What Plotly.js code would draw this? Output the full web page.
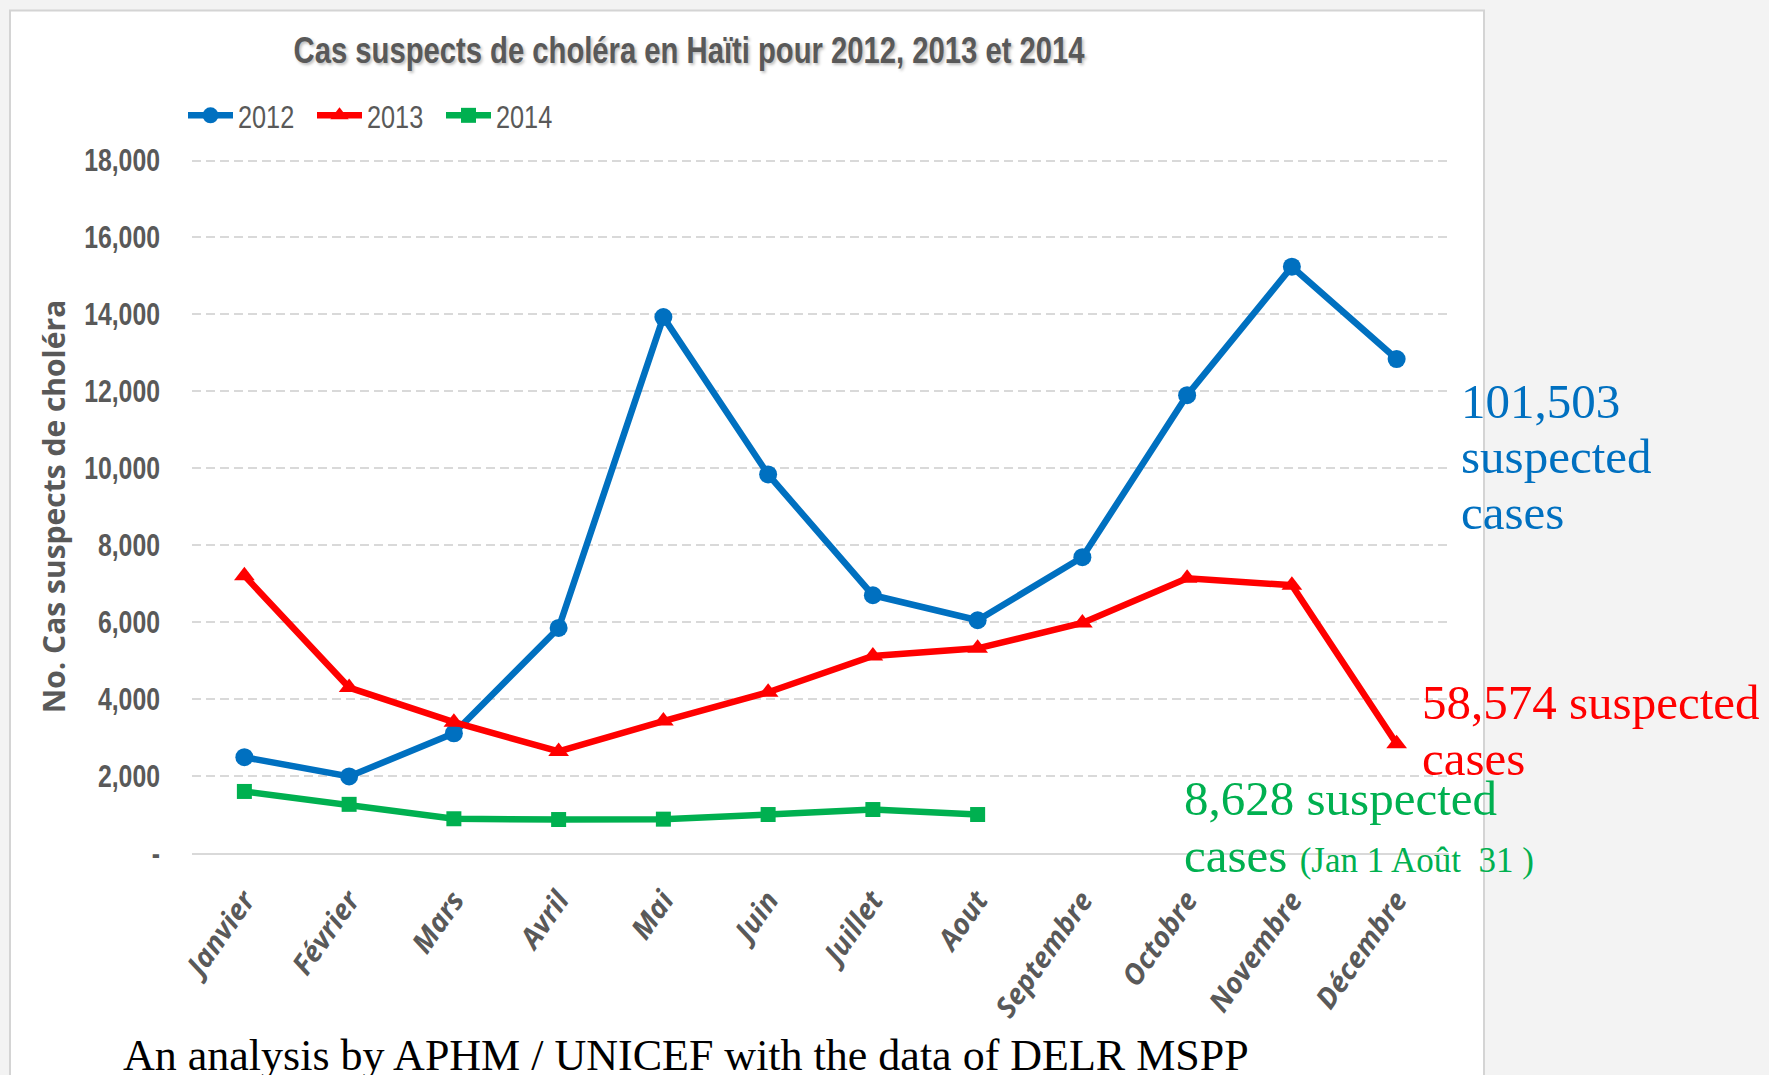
<!DOCTYPE html>
<html>
<head>
<meta charset="utf-8">
<script src="https://cdn.plot.ly/plotly-3.0.1.min.js"></script>
<style>
  html, body { margin: 0; padding: 0; background: #f3f3f3; }
  #chart { width: 1769px; height: 1075px; }
</style>
</head>
<body>
<div id="chart"></div>
<script>
// ---- Data ----
const months = ["Janvier", "Février", "Mars", "Avril", "Mai", "Juin", "Juillet", "Aout",
                "Septembre", "Octobre", "Novembre", "Décembre"];
const cases2012 = [2490, 1990, 3110, 5850, 13930, 9840, 6700, 6050, 7690, 11900, 15240, 12840];
const cases2013 = [7210, 4300, 3400, 2640, 3430, 4180, 5120, 5320, 5980, 7140, 6960, 2840];
const cases2014 = [1600, 1265, 890, 870, 880, 1000, 1130, 1000];
const months2014 = months.slice(0, cases2014.length);
const yTickVals = [0, 2000, 4000, 6000, 8000, 10000, 12000, 14000, 16000, 18000];
const yTickText = ["-", "2,000", "4,000", "6,000", "8,000", "10,000", "12,000", "14,000", "16,000", "18,000"];
const seriesNames = ["2012", "2013", "2014"];
const chartTitle = "Cas suspects de choléra en Haïti pour 2012, 2013 et 2014";
const yTitle = "No. Cas suspects de choléra";
const note2012 = ["101,503", "suspected", "cases"];
const note2013 = ["58,574 suspected", "cases"];
const note2014a = "8,628 suspected";
const note2014b = "cases";
const note2014c = "(Jan 1 Août&nbsp;&nbsp;31 )";
const footer = "An analysis by APHM / UNICEF with the data of DELR MSPP";

// ---- Layout geometry (pixels) ----
const W = 1769, H = 1075;
const L = 192, R = 1449, T = 158.5, B = 853;
const yMax = 18040;
const px2x = p => (p - L) / (R - L);
const px2y = p => (B - p) / (B - T);

const gray = "#595959";
const sans = "'Liberation Sans', Arial, sans-serif";
const serif = "'Liberation Serif', 'Times New Roman', serif";
const open = "'Open Sans', 'DejaVu Sans', sans-serif";

function note(text, left, baseline, size, color) {
  return {
    text: text, xref: "paper", yref: "paper",
    x: px2x(left), y: px2y(baseline - 0.32 * size),
    xanchor: "left", yanchor: "middle", showarrow: false,
    font: {family: serif, size: size, color: color}
  };
}

const traces = [
  {x: months, y: cases2012, name: seriesNames[0], type: "scatter", mode: "lines+markers",
   line: {color: "#0070C0", width: 6.5}, marker: {symbol: "circle", size: 18, color: "#0070C0"}},
  {x: months, y: cases2013, name: seriesNames[1], type: "scatter", mode: "lines+markers",
   line: {color: "#FF0000", width: 6.5}, marker: {symbol: "triangle-up", size: 18, color: "#FF0000"}},
  {x: months2014, y: cases2014, name: seriesNames[2], type: "scatter", mode: "lines+markers",
   line: {color: "#00B050", width: 6.5}, marker: {symbol: "square", size: 15, color: "#00B050"}}
];

const layout = {
  width: W, height: H,
  margin: {l: L, r: W - R, t: T, b: H - B, pad: 0},
  paper_bgcolor: "#f3f3f3",
  plot_bgcolor: "rgba(0,0,0,0)",
  showlegend: true,
  title: {
    text: chartTitle, xref: "paper", x: px2x(689), xanchor: "center",
    yref: "container", y: 1 - 50 / H, yanchor: "middle",
    font: {family: sans, size: 37, weight: 700, color: gray, shadow: "2px 2px 3px rgba(0,0,0,0.25)"}
  },
  legend: {
    orientation: "h", x: px2x(183), xanchor: "left", y: px2y(115), yanchor: "middle",
    font: {family: sans, size: 32, color: gray},
    bgcolor: "rgba(0,0,0,0)", entrywidth: 69, entrywidthmode: "pixels", itemwidth: 45,
    tracegroupgap: 0
  },
  xaxis: {
    type: "category", range: [-0.5, 11.5], showgrid: false, zeroline: false,
    showline: true, linecolor: "#d9d9d9", linewidth: 2,
    ticks: "", tickangle: -55, ticklabelstandoff: 17,
    tickfont: {family: open, size: 28.5, color: gray, weight: 700, style: "italic"},
    fixedrange: true
  },
  yaxis: {
    range: [0, yMax], tickvals: yTickVals, ticktext: yTickText,
    showgrid: true, gridcolor: "#d9d9d9", gridwidth: 2, griddash: "9px,5px",
    zeroline: false, showline: false, ticks: "", ticklabelstandoff: 31,
    tickfont: {family: sans, size: 31, color: gray, weight: 700},
    fixedrange: true
  },
  shapes: [
    {type: "rect", xref: "paper", yref: "paper", layer: "below",
     x0: px2x(10), x1: px2x(1484), y0: px2y(1090), y1: px2y(10),
     fillcolor: "#ffffff", line: {color: "#d4d4d4", width: 2}}
  ],
  annotations: [
    {text: yTitle, xref: "paper", yref: "paper", x: px2x(53), y: px2y(506),
     xanchor: "center", yanchor: "middle", textangle: -90, showarrow: false,
     font: {family: open, size: 30, color: gray, weight: 700}},
    note(note2012[0], 1459, 417, 49, "#0070C0"),
    note(note2012[1], 1459, 472, 49, "#0070C0"),
    note(note2012[2], 1459, 528, 49, "#0070C0"),
    note(note2013[0], 1420, 718, 49, "#FF0000"),
    note(note2013[1], 1420, 774, 49, "#FF0000"),
    note(note2014a, 1182, 814, 49, "#00B050"),
    note(note2014b + " <span style=\"font-size:35px\">" + note2014c + "</span>", 1182, 871, 49, "#00B050"),
    note(footer, 121, 1070, 44, "#000000")
  ]
};

// Horizontal squeeze of some texts, to match the condensed look of the original picture
function squeeze(el, s, anchor) {
  const bb = el.getBBox();
  const cx = anchor === "left" ? bb.x : anchor === "right" ? bb.x + bb.width : bb.x + bb.width / 2;
  const prev = el.getAttribute("transform") || "";
  el.setAttribute("transform", prev + " translate(" + cx + ",0) scale(" + s + ",1) translate(" + (-cx) + ",0)");
}

Plotly.newPlot("chart", traces, layout, {displayModeBar: false, staticPlot: true}).then(gd => {
  gd.querySelectorAll(".gtitle").forEach(el => squeeze(el, 0.79, "center"));
  gd.querySelectorAll(".ytick text").forEach(el => squeeze(el, 0.8, "right"));
  gd.querySelectorAll(".legendtext").forEach(el => squeeze(el, 0.79, "left"));
});
</script>
</body>
</html>
